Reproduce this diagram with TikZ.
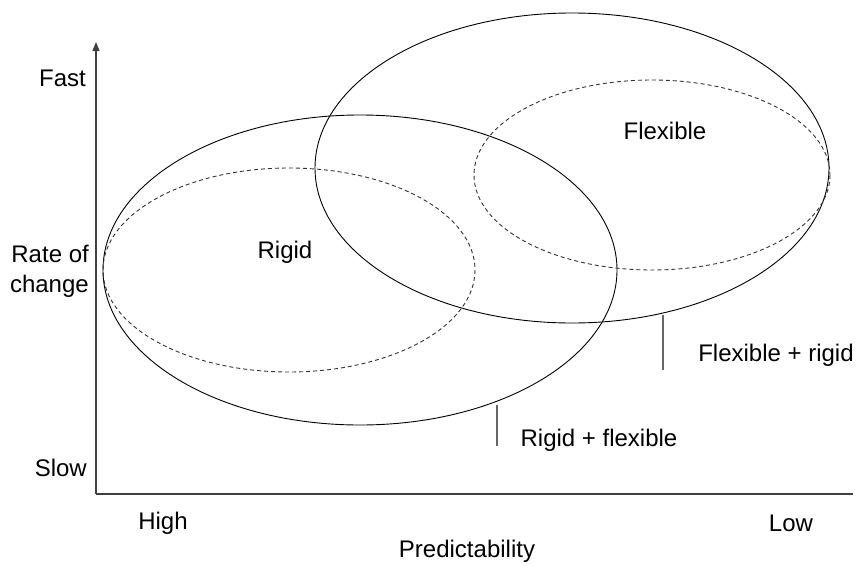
\documentclass[tikz,border=0pt]{standalone}
\usepackage{fontspec}
\setmainfont{Liberation Sans}
\usetikzlibrary{arrows.meta}
\begin{document}
\begin{tikzpicture}[x=1pt,y=-1pt,
  lbl/.style={font=\fontsize{24}{30}\selectfont, inner sep=0pt},
  axisline/.style={draw=black!75, line width=1.3pt},
  solidell/.style={draw=black, line width=0.9pt},
  dashell/.style={draw=black!80, line width=0.9pt, dash pattern=on 4pt off 3pt},
  tickline/.style={draw=black!60, line width=1.1pt}]
\useasboundingbox (0,0) rectangle (856,565);
% axes
\coordinate (origin) at (96,494);
\coordinate (ytop) at (96,42);
\coordinate (xend) at (853,494);
\draw[axisline, -{Triangle[width=7pt,length=9pt]}] (origin) -- (ytop);
\draw[axisline] (origin) -- (xend);
% ellipses
\coordinate (c1) at (360,270);
\coordinate (c2) at (572,168);
\coordinate (d1) at (289,270);
\coordinate (d2) at (652,175);
\draw[solidell] (c1) ellipse [x radius=257, y radius=155];
\draw[solidell] (c2) ellipse [x radius=257, y radius=155];
\draw[dashell] (d1) ellipse [x radius=186, y radius=102];
\draw[dashell] (d2) ellipse [x radius=178, y radius=95];
% axis labels
\node[lbl, anchor=east] (fast) at (86,78) {Fast};
\node[lbl, anchor=east, align=right] (rate) at (89,271) {Rate of\\change};
\node[lbl, anchor=east] (slow) at (87,468) {Slow};
\node[lbl] (high) at (163,523) {High};
\node[lbl] (low) at (791,523) {Low};
\node[lbl] (pred) at (467,551) {Predictability};
% region labels
\node[lbl] (rigid) at (285,252) {Rigid};
\node[lbl] (flex) at (665,131) {Flexible};
\node[lbl] (flexrigid) at (776,355) {Flexible + rigid};
\node[lbl] (rigidflex) at (599,440) {Rigid + flexible};
% tick lines
\coordinate (t1a) at (497,405);
\coordinate (t1b) at (497,446);
\coordinate (t2a) at (663,315);
\coordinate (t2b) at (663,370);
\draw[tickline] (t1a) -- (t1b);
\draw[tickline] (t2a) -- (t2b);
\end{tikzpicture}
\end{document}
